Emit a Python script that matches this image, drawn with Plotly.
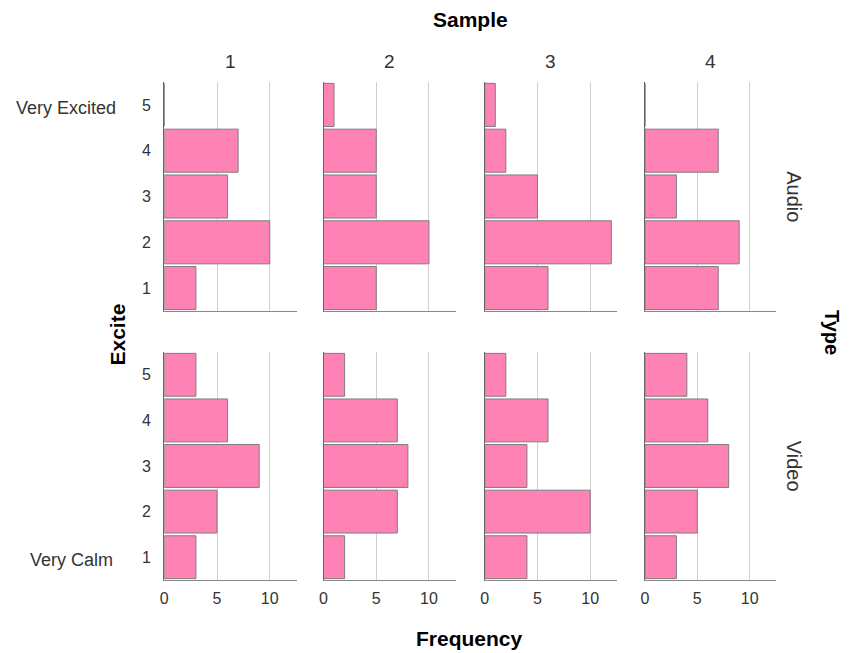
import plotly.graph_objects as go
from plotly.subplots import make_subplots

levels = [1, 2, 3, 4, 5]
samples = ["1", "2", "3", "4"]
types = ["Audio", "Video"]

audio_counts = {
    "1": [3, 10, 6, 7, 0],
    "2": [5, 10, 5, 5, 1],
    "3": [6, 12, 5, 2, 1],
    "4": [7, 9, 3, 7, 0],
}
video_counts = {
    "1": [3, 5, 9, 6, 3],
    "2": [2, 7, 8, 7, 2],
    "3": [4, 10, 4, 6, 2],
    "4": [3, 5, 8, 6, 4],
}
x_ticks = [0, 5, 10]
y_ticks = [1, 2, 3, 4, 5]

# page has an 8px body margin; figure is sized to fit the window
OFFX, OFFY = 9, 8
W, H = 850 - OFFX, 653 - OFFY
col_px = [(162, 295), (322, 455), (484, 617), (645, 777)]
row_px = [(82, 311), (352, 580)]


def px_x(p):
    return (p - OFFX) / W


def px_y(p):
    return 1 - (p - OFFY) / H


fig = make_subplots(rows=2, cols=4)
FONT = "Liberation Sans, Arial, sans-serif"
BAR = "#ff82b4"
EDGE = "#7d7d7d"
AX = "#666666"
GRID = "#d0d0d0"

for r, data in enumerate([audio_counts, video_counts], start=1):
    for c, s in enumerate(samples, start=1):
        fig.add_trace(go.Bar(
            x=data[s], y=levels, orientation="h",
            marker=dict(color=BAR, line=dict(color=EDGE, width=1)),
            width=0.94, showlegend=False, hoverinfo="x+y"),
            row=r, col=c)

for r in range(2):
    for c in range(4):
        idx = r * 4 + c + 1
        xa = "xaxis" if idx == 1 else f"xaxis{idx}"
        ya = "yaxis" if idx == 1 else f"yaxis{idx}"
        x0, x1 = col_px[c]
        y0, y1 = row_px[r]
        fig.layout[xa].update(
            domain=[px_x(x0), px_x(x1)], range=[0, 12.55],
            tickvals=x_ticks, showticklabels=(r == 1),
            showgrid=True, gridcolor=GRID, gridwidth=1.3,
            showline=True, linecolor="#888888", linewidth=1.2,
            zeroline=False, ticks="", fixedrange=True, ticklabelstandoff=4,
            tickfont=dict(family=FONT, size=16, color="#333"))
        fig.layout[ya].update(
            domain=[px_y(y1), px_y(y0)], range=[0.5, 5.5],
            tickvals=y_ticks, showticklabels=(c == 0),
            showgrid=False, showline=True, linecolor=AX, linewidth=1.2,
            zeroline=False, ticks="", ticklabelstandoff=9,
            tickfont=dict(family=FONT, size=16, color="#333"))

ann = []
for c, s in enumerate(samples):
    x0, x1 = col_px[c]
    ann.append(dict(text=s, x=px_x((x0 + x1) / 2), y=px_y(62),
                    font=dict(family=FONT, size=19, color="#333")))
for r, t in enumerate(types):
    y0, y1 = row_px[r]
    ann.append(dict(text=t, x=px_x(795), y=px_y((y0 + y1) / 2), textangle=90,
                    font=dict(family=FONT, size=20, color="#333")))
ann += [
    dict(text="<b>Sample</b>", x=px_x(470), y=px_y(20), font=dict(family=FONT, size=21, color="#000")),
    dict(text="<b>Frequency</b>", x=px_x(469), y=px_y(638), font=dict(family=FONT, size=21, color="#000")),
    dict(text="<b>Excite</b>", x=px_x(114), y=px_y(335), textangle=-90, font=dict(family=FONT, size=21, color="#000")),
    dict(text="<b>Type</b>", x=px_x(833), y=px_y(332), textangle=90, font=dict(family=FONT, size=20, color="#000")),
    dict(text="Very Excited", x=px_x(116), y=px_y(108), xanchor="right", font=dict(family=FONT, size=18, color="#333")),
    dict(text="Very Calm", x=px_x(112), y=px_y(560), xanchor="right", font=dict(family=FONT, size=18, color="#333")),
]
for a in ann:
    a.setdefault("xanchor", "center")
    a["yanchor"] = "middle"
    a["xref"] = "paper"
    a["yref"] = "paper"
    a["showarrow"] = False

fig.update_layout(
    width=W, height=H, margin=dict(l=0, r=0, t=0, b=0),
    paper_bgcolor="white", plot_bgcolor="white",
    annotations=ann, bargap=0.06,
)
fig.write_html("out.html")
